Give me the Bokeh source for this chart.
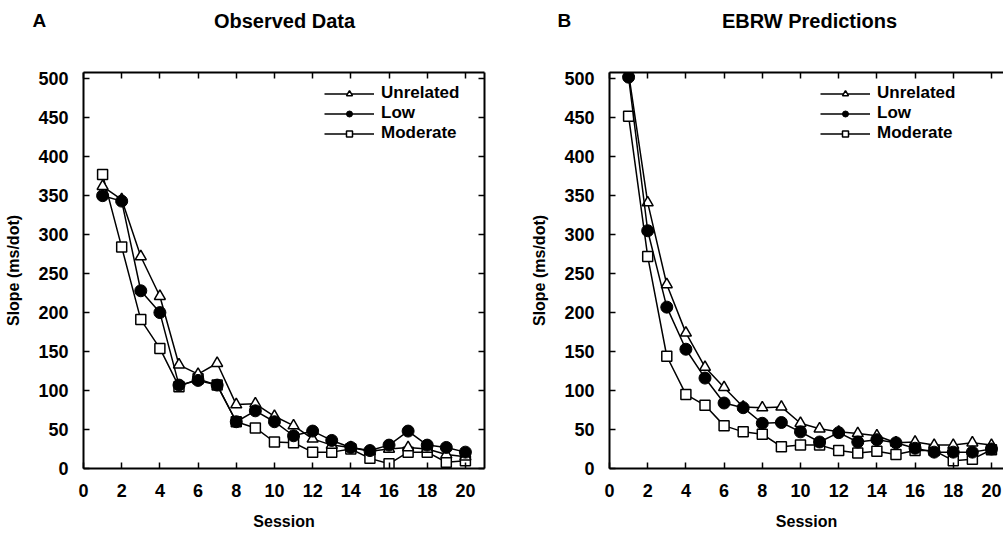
from bokeh.plotting import figure
from bokeh.layouts import row, column
from bokeh.models import (LinearAxis, SingleIntervalTicker, Legend, LegendItem,
                          Range1d, CustomJSTickFormatter)
from bokeh.core.properties import value
from bokeh.embed import file_html
from bokeh.resources import INLINE

sessions = list(range(1, 21))
x_ticks_interval = 2
y_ticks_interval = 50

obs_unrelated = [362, 345, 272, 221, 133, 121, 135, 82, 83, 67, 55, 38, 30, 27, 22, 25, 27, 25, 18, 15]
obs_low = [350, 343, 228, 200, 107, 113, 107, 60, 74, 60, 42, 48, 36, 27, 23, 30, 48, 30, 27, 21]
obs_moderate = [377, 284, 191, 154, 105, 115, 107, 60, 52, 34, 33, 21, 21, 25, 13, 6, 21, 21, 8, 10]

ebrw_unrelated = [507, 341, 236, 174, 130, 104, 79, 78, 79, 58, 51, 47, 45, 42, 33, 34, 30, 30, 33, 30]
ebrw_low = [502, 305, 207, 153, 116, 84, 78, 58, 59, 47, 34, 46, 34, 37, 33, 26, 21, 21, 21, 25]
ebrw_moderate = [452, 272, 144, 95, 81, 55, 47, 44, 28, 30, 30, 23, 20, 22, 18, 23, 23, 10, 12, 24]

panel_letters = ["A", "B"]
panel_titles = ["Observed Data", "EBRW Predictions"]

FONT = "Liberation Sans"
HEADER_H = 40
FIG_H = 493


def style_axis(ax, labels=True):
    ax.axis_line_width = 2
    ax.axis_line_color = "black"
    ax.major_tick_in = 6
    ax.major_tick_out = 0
    ax.major_tick_line_width = 1.5
    ax.major_tick_line_color = "black"
    ax.minor_tick_line_color = None
    ax.major_label_text_font = FONT
    ax.major_label_text_font_style = "bold"
    ax.major_label_text_color = "black"
    ax.major_label_text_font_size = "18px"
    if labels:
        ax.major_label_standoff = 11
    else:
        ax.formatter = CustomJSTickFormatter(code="return ''")
        ax.major_label_standoff = 0
    ax.axis_label_text_font = FONT
    ax.axis_label_text_font_style = "bold"
    ax.axis_label_text_font_size = "16px"
    ax.axis_label_text_color = "black"


def make_panel(width, xmax, border_left, border_right, unrel, low, mod,
               legend_x, right_axis):
    p = figure(width=width, height=FIG_H, output_backend="svg", toolbar_location=None,
               x_range=Range1d(0, xmax), y_range=Range1d(0, 508),
               min_border_left=border_left, min_border_right=border_right,
               min_border_top=32, min_border_bottom=65)
    p.outline_line_color = None
    p.xgrid.visible = False
    p.ygrid.visible = False
    p.background_fill_color = "white"
    p.border_fill_color = "white"

    p.xaxis.ticker = SingleIntervalTicker(interval=x_ticks_interval)
    p.yaxis.ticker = SingleIntervalTicker(interval=y_ticks_interval)
    p.xaxis.axis_label = "Session"
    p.yaxis.axis_label = "Slope (ms/dot)"
    for ax in p.xaxis + p.yaxis:
        style_axis(ax)
    p.xaxis.axis_label_standoff = 13
    p.yaxis.axis_label_standoff = 13

    top = LinearAxis(ticker=SingleIntervalTicker(interval=x_ticks_interval))
    style_axis(top, labels=False)
    p.add_layout(top, "above")
    if right_axis:
        rt = LinearAxis(ticker=SingleIntervalTicker(interval=y_ticks_interval))
        style_axis(rt, labels=False)
        p.add_layout(rt, "right")

    # Moderate
    lm = p.line(sessions, mod, line_color="black", line_width=1.5)
    sm = p.scatter(sessions, mod, marker="square", size=10, fill_color="white",
                   line_color="black", line_width=1.5)
    # Unrelated
    lu = p.line(sessions, unrel, line_color="black", line_width=1.5)
    su = p.scatter(sessions, unrel, marker="triangle", size=11, fill_color="white",
                   line_color="black", line_width=1.5)
    # Low
    ll = p.line(sessions, low, line_color="black", line_width=1.5)
    sl = p.scatter(sessions, low, marker="circle", size=12, fill_color="black",
                   line_color="black", line_width=1)

    legend = Legend(items=[LegendItem(label="Unrelated", renderers=[lu, su]),
                           LegendItem(label="Low", renderers=[ll, sl]),
                           LegendItem(label="Moderate", renderers=[lm, sm])],
                    location=(legend_x, 325), padding=0, margin=0,
                    border_line_color=None, background_fill_alpha=0,
                    glyph_width=50, glyph_height=15, label_height=15,
                    spacing=0, label_standoff=7,
                    label_text_font=FONT, label_text_font_style="bold",
                    label_text_font_size="17px", label_text_color="black")
    p.add_layout(legend, "center")
    return p


# header with panel letters and titles
hdr = figure(width=1003, height=HEADER_H, output_backend="svg", toolbar_location=None,
             x_range=Range1d(0, 1003), y_range=Range1d(0, HEADER_H),
             x_axis_type=None, y_axis_type=None, min_border=0)
hdr.outline_line_color = None
hdr.xgrid.visible = False
hdr.ygrid.visible = False
hdr.text(x=[32, 557], y=[20, 20], text=panel_letters, text_align="left",
         text_baseline="middle", text_font=value(FONT), text_font_style="bold",
         text_font_size="19px", text_color="black")
hdr.text(x=[284, 809], y=[20, 20], text=panel_titles, text_align="center",
         text_baseline="middle", text_font=value(FONT), text_font_style="bold",
         text_font_size="20px", text_color="black")

pA = make_panel(526, 21, 83, 42, obs_unrelated, obs_low, obs_moderate, 241, True)
pB = make_panel(477, 20.63, 83, 0, ebrw_unrelated, ebrw_low, ebrw_moderate, 211, False)

layout = column(hdr, row(pA, pB))
open("out.html", "w").write(file_html(layout, INLINE))
